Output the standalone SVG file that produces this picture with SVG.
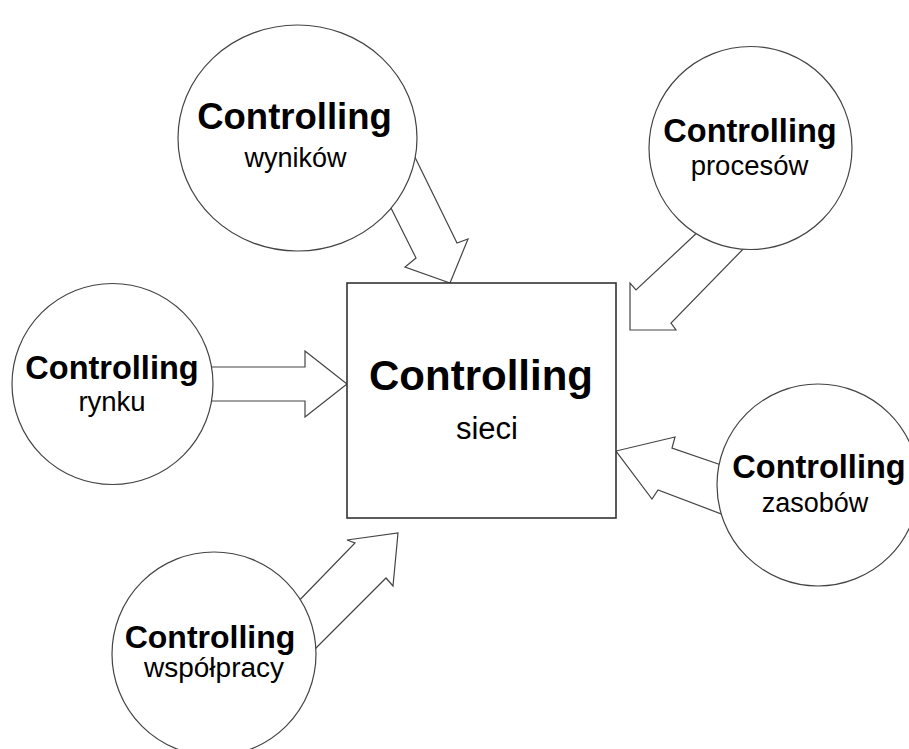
<svg xmlns="http://www.w3.org/2000/svg" width="909" height="749" viewBox="0 0 909 749">
<style>
.node{fill:#fff;stroke:#444;stroke-width:1.2}
.box{fill:#fff;stroke:#333;stroke-width:1.6}
.arr{fill:#fff;stroke:#444;stroke-width:1.2;stroke-linejoin:miter}
.t{font-family:"Liberation Sans",Arial,sans-serif;fill:#000;text-anchor:middle}
.b{font-weight:bold}
</style>
<rect width="909" height="749" fill="#fff"/>
<g id="connectors">
<polygon class="arr" points="385,196 416,258 405,267 450,283 468,239 457,243 408,143"/>
<polygon class="arr" points="701,229 636,290 630,283 630,330 676,330 671,323 749,243"/>
<polygon class="arr" points="200,367 305,367 305,351 347,384 305,417 305,401 200,401"/>
<polygon class="arr" points="730,468 672,448 675,437 616,451 652,499 658,490 732,518"/>
<polygon class="arr" points="290,610 355,543 347,540 398,533 393,586 386,578 304,660"/>
</g>
<g id="sieci">
<rect class="box" x="347" y="283" width="269" height="235"/>
<text class="t b" x="481" y="390" font-size="42">Controlling</text>
<text class="t" x="487" y="439" font-size="31">sieci</text>
</g>
<g id="wynikow">
<ellipse class="node" cx="297.5" cy="138" rx="119.5" ry="113"/>
<text class="t b" x="294.5" y="129" font-size="36.5">Controlling</text>
<text class="t" x="295.5" y="167" font-size="27">wyników</text>
</g>
<g id="procesow">
<circle class="node" cx="750.5" cy="148" r="101.5"/>
<text class="t b" x="750" y="142" font-size="32.5">Controlling</text>
<text class="t" x="749.5" y="175" font-size="27.5">procesów</text>
</g>
<g id="rynku">
<circle class="node" cx="112.5" cy="384" r="100.5"/>
<text class="t b" x="112" y="379" font-size="32.5">Controlling</text>
<text class="t" x="112" y="411" font-size="27.5">rynku</text>
</g>
<g id="zasobow">
<circle class="node" cx="818" cy="485" r="101"/>
<text class="t b" x="819" y="478" font-size="32.5">Controlling</text>
<text class="t" x="815" y="512" font-size="27">zasobów</text>
</g>
<g id="wspolpracy">
<circle class="node" cx="214" cy="654" r="102"/>
<text class="t b" x="210" y="648" font-size="32">Controlling</text>
<text class="t" x="214" y="677" font-size="28">współpracy</text>
</g>
</svg>
